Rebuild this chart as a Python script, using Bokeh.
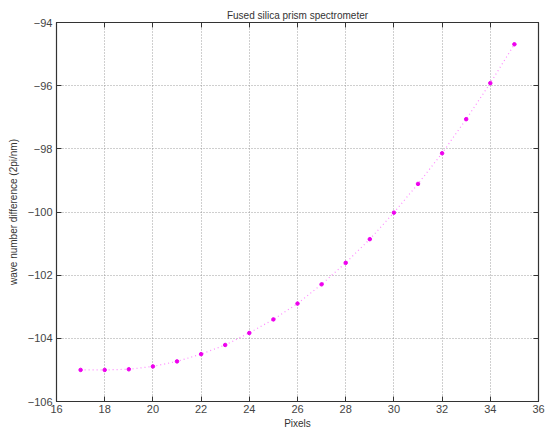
from bokeh.plotting import figure
from bokeh.models import LinearAxis, FixedTicker, Range1d
from bokeh.embed import file_html
from bokeh.resources import INLINE

pixels = [17, 18, 19, 20, 21, 22, 23, 24, 25, 26, 27, 28, 29, 30, 31, 32, 33, 34, 35]
wavenum = [-105.0, -105.0, -104.98, -104.89, -104.73, -104.50, -104.21, -103.83, -103.40,
           -102.90, -102.29, -101.61, -100.86, -100.02, -99.11, -98.14, -97.06, -95.92, -94.69]
x_ticks = [16, 18, 20, 22, 24, 26, 28, 30, 32, 34, 36]
y_ticks = [-106, -104, -102, -100, -98, -96, -94]

p = figure(width=545, height=434, output_backend="svg", toolbar_location=None,
           x_range=Range1d(16, 36), y_range=Range1d(-106, -94),
           min_border_left=56, min_border_right=7, min_border_top=22, min_border_bottom=33,
           title="Fused silica prism spectrometer")
p.title.align = "center"
p.title.text_font = "Liberation Sans"
p.title.text_font_size = "10px"
p.title.text_font_style = "normal"
p.title.text_color = "#333333"
p.title.offset = 0
p.title.standoff = 4

p.outline_line_color = "#333333"
p.outline_line_width = 1.2
p.background_fill_color = "white"
p.border_fill_color = "white"

for ax in [p.xaxis[0], p.yaxis[0]]:
    ax.major_tick_in = 5
    ax.major_tick_out = 0
    ax.minor_tick_in = 0
    ax.minor_tick_out = 0
    ax.axis_line_color = "#333333"
    ax.major_tick_line_color = "#333333"
    ax.major_label_text_font = "Liberation Sans"
    ax.major_label_text_font_size = "11px"
    ax.major_label_text_color = "#444444"
    ax.axis_label_text_font = "Liberation Sans"
    ax.axis_label_text_font_size = "10px"
    ax.axis_label_text_font_style = "normal"
    ax.axis_label_text_color = "#333333"

p.xaxis[0].ticker = FixedTicker(ticks=x_ticks)
p.yaxis[0].ticker = FixedTicker(ticks=y_ticks)
p.xaxis[0].axis_label = "Pixels"
p.yaxis[0].axis_label = "wave number difference (2pi/nm)"
p.xaxis[0].major_label_standoff = 3
p.xaxis[0].axis_label_standoff = 2
p.yaxis[0].major_label_standoff = 4
p.yaxis[0].axis_label_standoff = 6

top = LinearAxis(ticker=FixedTicker(ticks=x_ticks),
                 major_label_overrides={t: "" for t in x_ticks},
                 major_tick_in=5, major_tick_out=0, minor_tick_in=0, minor_tick_out=0,
                 axis_line_color="#333333", major_tick_line_color="#333333")
right = LinearAxis(ticker=FixedTicker(ticks=y_ticks),
                   major_label_overrides={t: "" for t in y_ticks},
                   major_tick_in=5, major_tick_out=0, minor_tick_in=0, minor_tick_out=0,
                   axis_line_color="#333333", major_tick_line_color="#333333")
top.major_label_standoff = 0
right.major_label_standoff = 0
p.add_layout(top, "above")
p.add_layout(right, "right")

p.xgrid.ticker = FixedTicker(ticks=x_ticks)
p.ygrid.ticker = FixedTicker(ticks=y_ticks)
for g in [p.xgrid[0], p.ygrid[0]]:
    g.grid_line_color = "#888888"
    g.grid_line_dash = "1 2"
    g.grid_line_width = 1
    g.grid_line_alpha = 0.8

p.line(pixels, wavenum, line_color="#ff88ff", line_dash="1 3", line_width=1.2)
p.scatter(pixels, wavenum, marker="circle", size=3.5, fill_color="#ee00ee", line_color="#ee00ee")

open("out.html", "w").write(file_html(p, INLINE))
